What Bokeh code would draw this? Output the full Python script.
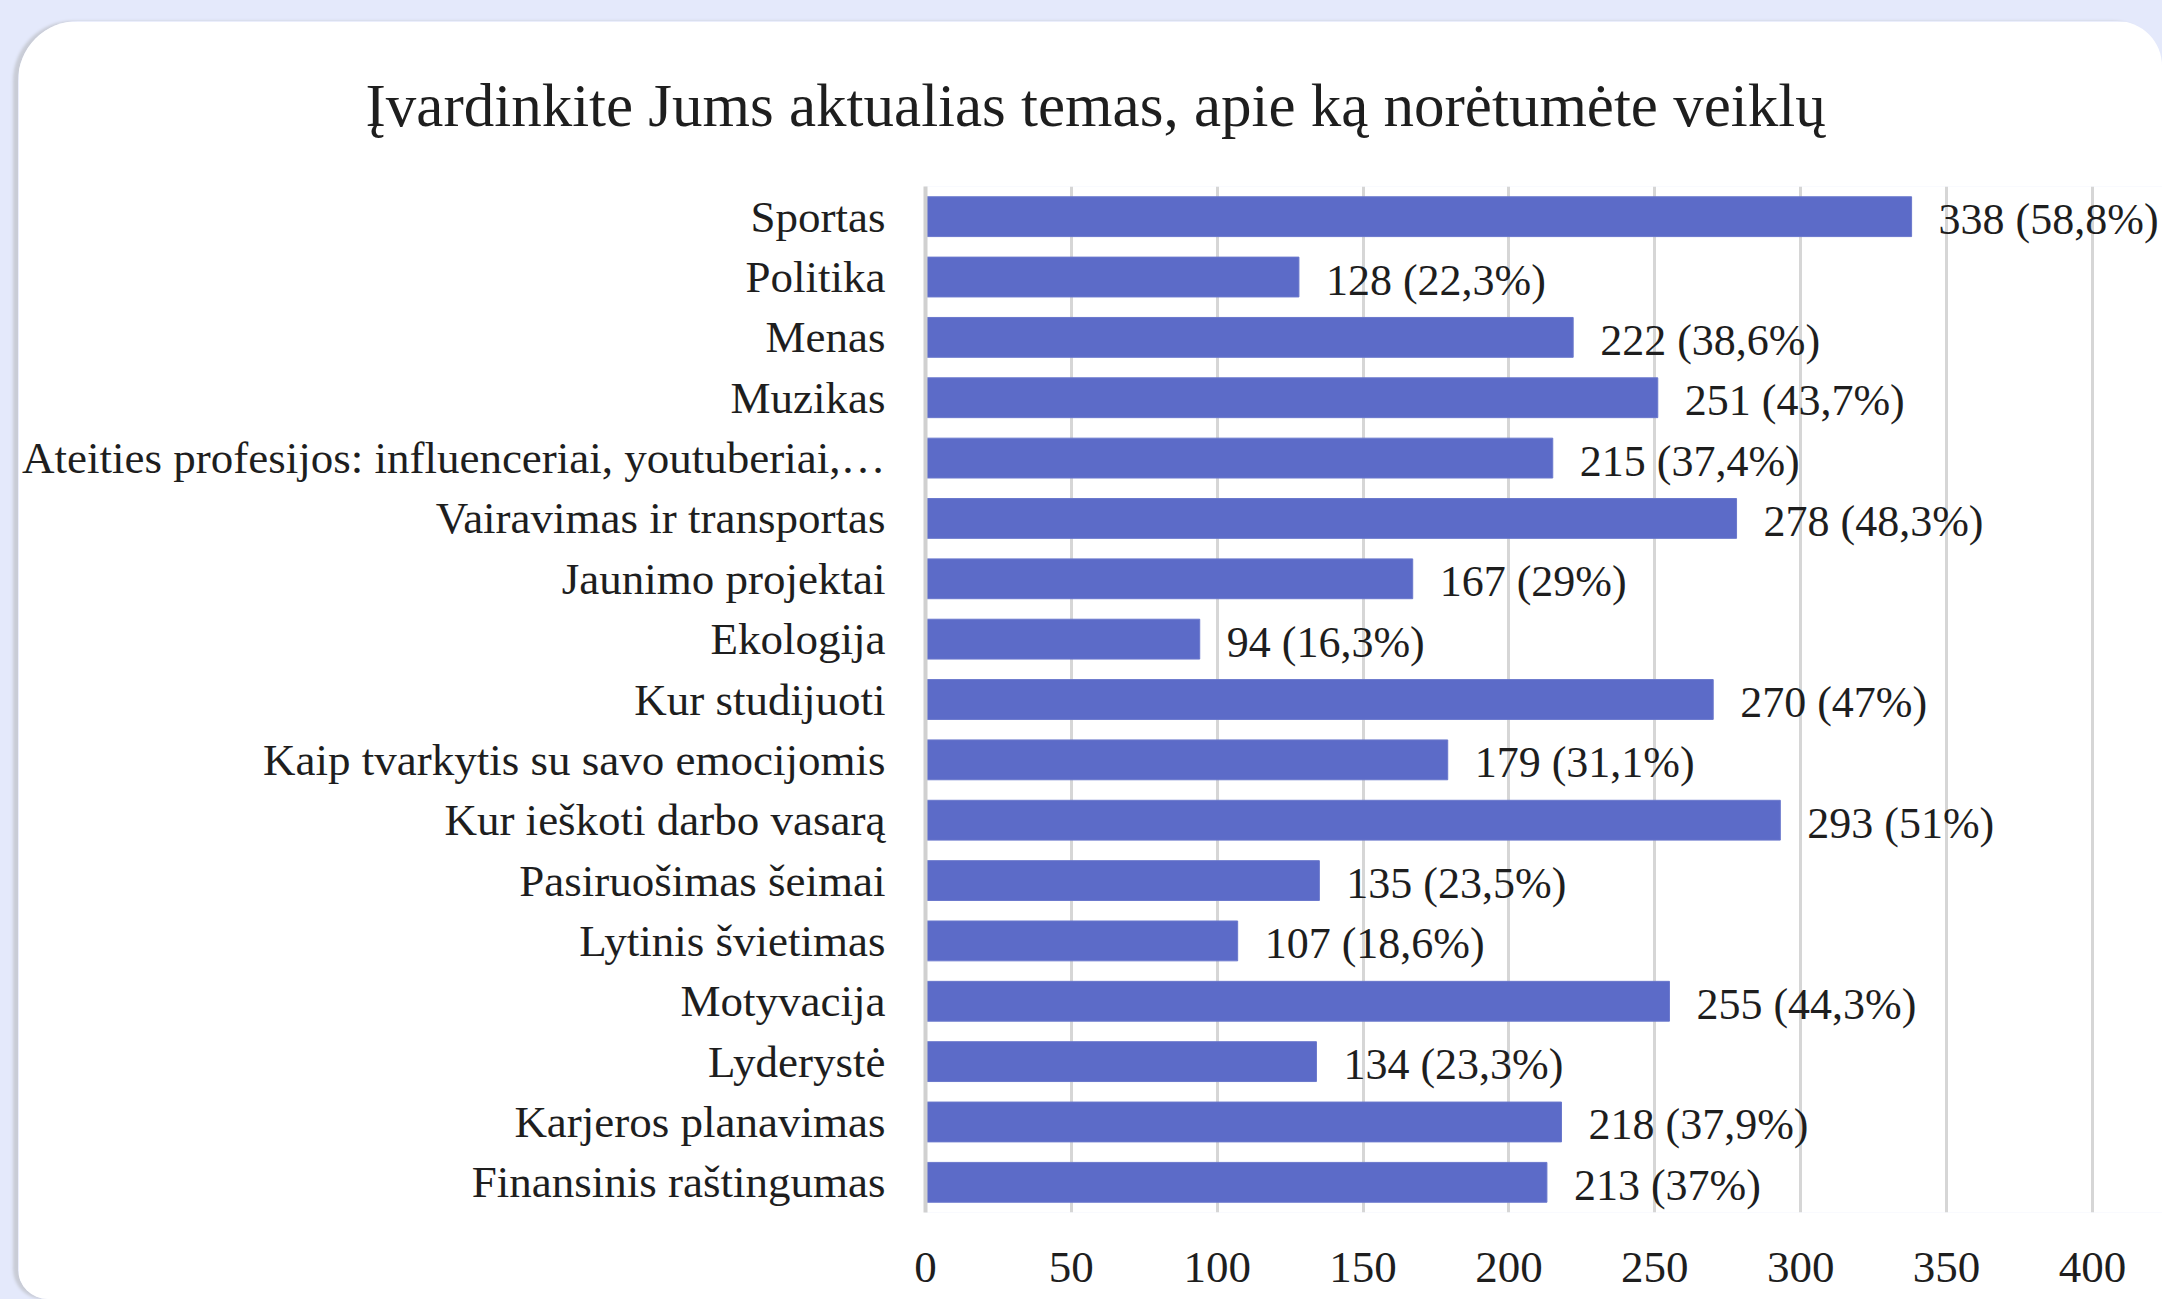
from bokeh.plotting import figure
from bokeh.layouts import column
from bokeh.models import FactorRange, Range1d, FixedTicker, LabelSet, ColumnDataSource
from bokeh.embed import file_html
from bokeh.resources import INLINE

categories = [
    "Sportas",
    "Politika",
    "Menas",
    "Muzikas",
    "Ateities profesijos: influenceriai, youtuberiai,…",
    "Vairavimas ir transportas",
    "Jaunimo projektai",
    "Ekologija",
    "Kur studijuoti",
    "Kaip tvarkytis su savo emocijomis",
    "Kur ieškoti darbo vasarą",
    "Pasiruošimas šeimai",
    "Lytinis švietimas",
    "Motyvacija",
    "Lyderystė",
    "Karjeros planavimas",
    "Finansinis raštingumas",
]
counts = [338, 128, 222, 251, 215, 278, 167, 94, 270, 179, 293, 135, 107, 255, 134, 218, 213]
percents = ["58,8", "22,3", "38,6", "43,7", "37,4", "48,3", "29", "16,3", "47", "31,1",
            "51", "23,5", "18,6", "44,3", "23,3", "37,9", "37"]
x_ticks = [0, 50, 100, 150, 200, 250, 300, 350, 400]
title_text = "Įvardinkite  Jums aktualias temas, apie ką norėtumėte veiklų"

labels = [f"{c} ({p}%)" for c, p in zip(counts, percents)]
src = ColumnDataSource(dict(cat=categories, val=counts, lab=labels))

FONT = "Liberation Serif"
PAGE_W, PAGE_H = 2162, 1299
CARD_X, CARD_Y = 18, 21
W, H = PAGE_W - CARD_X, PAGE_H - CARD_Y

p = figure(width=W, height=H, output_backend="svg", toolbar_location=None,
           y_range=FactorRange(*reversed(categories)), x_range=Range1d(0, 424),
           min_border_left=907, min_border_right=0, min_border_top=165, min_border_bottom=87)

p.margin = (CARD_Y, 0, 0, CARD_X)
p.styles = {"border-radius": "60px 45px 0px 30px", "overflow": "hidden",
            "box-shadow": "-5px 0px 3px #c9ccd6"}
p.border_fill_color = "white"
p.background_fill_color = "white"
p.outline_line_color = None

p.hbar(y="cat", right="val", left=0, height=0.66, source=src,
       fill_color="#5c6bc8", line_color="#6a78cc", line_width=1)

p.add_layout(LabelSet(x="val", y="cat", text="lab", source=src, x_offset=27, y_offset=-3,
                      text_baseline="middle", text_align="left", text_font=FONT,
                      text_font_size="44px", text_color="#1e1e1e"))

# grid
p.ygrid.grid_line_color = None
p.xgrid.grid_line_color = "#d6d6d6"
p.xgrid.grid_line_width = 3
p.xaxis.ticker = FixedTicker(ticks=x_ticks)

# x axis
xa = p.xaxis[0]
xa.axis_line_color = None
xa.major_tick_line_color = None
xa.minor_tick_line_color = None
xa.major_label_text_font = FONT
xa.major_label_text_font_size = "45px"
xa.major_label_text_color = "#1e1e1e"
xa.major_label_standoff = 34

# y axis
ya = p.yaxis[0]
ya.axis_line_color = "#d0d0d0"
ya.axis_line_width = 4
ya.major_tick_line_color = None
ya.minor_tick_line_color = None
ya.major_tick_out = 0
ya.major_label_standoff = 40
ya.major_label_text_font = FONT
ya.major_label_text_font_size = "45px"
ya.major_label_text_color = "#1e1e1e"

# title
p.title.text = title_text
p.title.text_font = FONT
p.title.text_font_size = "61px"
p.title.text_font_style = "normal"
p.title.text_color = "#1e1e1e"
p.title.align = "left"
p.title.offset = -560
p.title.vertical_align = "top"
p.title.standoff = 92

page = column(p, width=PAGE_W, height=PAGE_H, styles={"background-color": "#e4e9fb"})

open("out.html", "w").write(file_html(page, INLINE))
